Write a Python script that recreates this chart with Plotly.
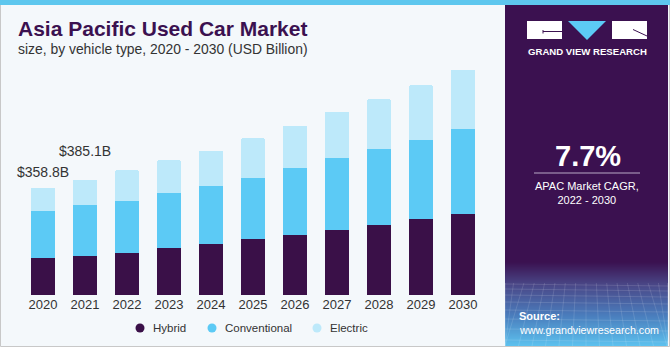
import plotly.graph_objects as go

# ---------------- data ----------------
years = ["2020", "2021", "2022", "2023", "2024", "2025", "2026", "2027", "2028", "2029", "2030"]
hybrid = [122.0, 130.5, 141.3, 156.0, 170.3, 186.0, 200.4, 216.1, 234.8, 252.8, 271.5]
conventional = [158.5, 169.5, 173.7, 185.7, 193.7, 205.7, 222.8, 242.5, 252.8, 264.9, 281.9]
electric = [78.3, 85.1, 101.5, 108.2, 117.9, 131.6, 142.3, 153.6, 166.0, 182.7, 199.1]
series_names = ["Hybrid", "Conventional", "Electric"]
labeled_years = ["2020", "2021"]

title_text = "Asia Pacific Used Car Market"
subtitle_text = "size, by vehicle type, 2020 - 2030 (USD Billion)"
cagr_text = "7.7%"
cagr_label = "APAC Market CAGR,<br>2022 - 2030"
brand_text = "GRAND VIEW RESEARCH"
source_title = "Source:"
source_url = "www.grandviewresearch.com"

# ---------------- style ----------------
C_HYB = "#3a1048"
C_CONV = "#5ccaf5"
C_ELEC = "#bde9fa"
C_PANEL = "#3b1150"
C_TITLE = "#3b1150"
C_TEXT = "#333333"
C_BG = "#f4f8fb"
FONT = "Liberation Sans, Arial, sans-serif"

W, H = 670, 350
L, R, T, B = 22, 186, 55, 55
PW = W - L - R
PH = H - T - B
YMAX = 801.6


def px(x):
    return (x - L) / PW


def py(y):
    return (H - B - y) / PH


fig = go.Figure()
colors = [C_HYB, C_CONV, C_ELEC]
for name, vals, col in zip(series_names, [hybrid, conventional, electric], colors):
    fig.add_trace(go.Bar(
        x=years, y=vals, name=name, marker=dict(color=col, line=dict(width=0)),
        showlegend=False, hoverinfo="x+y+name",
    ))

shapes = []
# chart background & borders
shapes.append(dict(type="rect", xref="paper", yref="paper", x0=px(0.5), x1=px(669.5), y0=py(346.5), y1=py(0),
                   fillcolor=C_BG, line=dict(color="#c8c8c8", width=1), layer="below"))
shapes.append(dict(type="rect", xref="paper", yref="paper", x0=px(0), x1=px(670), y0=py(5), y1=py(0),
                   fillcolor="#5ec7ee", line=dict(width=0), layer="below"))
# right panel
shapes.append(dict(type="rect", xref="paper", yref="paper", x0=px(505), x1=px(668), y0=py(346), y1=py(5),
                   fillcolor=C_PANEL, line=dict(width=0), layer="below"))


def hex2rgb(h):
    h = h.lstrip("#")
    return tuple(int(h[i:i + 2], 16) for i in (0, 2, 4))


stops = [(262, "#3b1150"), (285, "#4a4888"), (315, "#4a7cbc"), (346, "#5dc2ef")]
for i in range(len(stops) - 1):
    y0s, c0 = stops[i]
    y1s, c1 = stops[i + 1]
    r0, g0, b0 = hex2rgb(c0)
    r1, g1, b1 = hex2rgb(c1)
    n = int(y1s - y0s)
    for k in range(n):
        t = (k + 0.5) / n
        col = "rgb(%d,%d,%d)" % (r0 + (r1 - r0) * t, g0 + (g1 - g0) * t, b0 + (b1 - b0) * t)
        shapes.append(dict(type="rect", xref="paper", yref="paper", x0=px(505), x1=px(668),
                           y0=py(y0s + k + 1), y1=py(y0s + k), fillcolor=col, line=dict(width=0), layer="below"))
# faint grid pattern in panel bottom
for yy in [284, 289, 295, 302, 310, 319, 329, 340]:
    shapes.append(dict(type="line", xref="paper", yref="paper", x0=px(505), x1=px(668), y0=py(yy), y1=py(yy + 2),
                       line=dict(color="rgba(255,255,255,0.13)", width=1), layer="below"))
for xx in range(505, 670, 9):
    xa = min(max(xx + (xx - 586) * 0.15, 505), 668)
    xb = min(max(xx + (xx - 586) * 0.5, 505), 668)
    shapes.append(dict(type="line", xref="paper", yref="paper", x0=px(xa), x1=px(xb),
                       y0=py(283), y1=py(346), line=dict(color="rgba(255,255,255,0.12)", width=1), layer="below"))

# logo
shapes.append(dict(type="rect", xref="paper", yref="paper", x0=px(527), x1=px(562), y0=py(39), y1=py(21),
                   fillcolor="white", line=dict(width=0)))
shapes.append(dict(type="rect", xref="paper", yref="paper", x0=px(612), x1=px(647), y0=py(39), y1=py(21),
                   fillcolor="white", line=dict(width=0)))
shapes.append(dict(type="line", xref="paper", yref="paper", x0=px(543), x1=px(562), y0=py(31.5), y1=py(31.5),
                   line=dict(color=C_PANEL, width=1)))
shapes.append(dict(type="line", xref="paper", yref="paper", x0=px(543), x1=px(543), y0=py(30), y1=py(33.5),
                   line=dict(color=C_PANEL, width=1)))
shapes.append(dict(type="line", xref="paper", yref="paper", x0=px(633), x1=px(647), y0=py(29.5), y1=py(36),
                   line=dict(color=C_PANEL, width=1)))
tri = "M {} {} L {} {} L {} {} Z".format(px(568), py(21), px(606), py(21), px(587), py(40))
shapes.append(dict(type="path", xref="paper", yref="paper", path=tri, fillcolor="#5ccaf5", line=dict(width=0)))
# CAGR divider line
shapes.append(dict(type="line", xref="paper", yref="paper", x0=px(534), x1=px(640), y0=py(173), y1=py(173),
                   line=dict(color="#b9a9c6", width=1.2)))

annotations = []
annotations.append(dict(text="<b>" + title_text + "</b>", xref="paper", yref="paper", x=px(16), y=py(29),
                        xanchor="left", yanchor="middle", showarrow=False,
                        font=dict(family=FONT, size=21, color=C_TITLE)))
annotations.append(dict(text=subtitle_text, xref="paper", yref="paper", x=px(16), y=py(49),
                        xanchor="left", yanchor="middle", showarrow=False,
                        font=dict(family=FONT, size=13.9, color=C_TEXT)))
# totals
yshifts = {"2020": 6, "2021": 19}
for yr in labeled_years:
    i = years.index(yr)
    tot = hybrid[i] + conventional[i] + electric[i]
    annotations.append(dict(text="${:.1f}B".format(tot), x=i, y=tot, xref="x", yref="y",
                            xanchor="center", yanchor="bottom", yshift=yshifts[yr], showarrow=False,
                            font=dict(family=FONT, size=14, color=C_TEXT)))

# legend (round markers + labels)
legend_marker_x = [140, 212, 317]
for name, col, mx in zip(series_names, colors, legend_marker_x):
    shapes.append(dict(type="circle", xref="paper", yref="paper", x0=px(mx - 4.5), x1=px(mx + 4.5),
                       y0=py(328 + 4.5), y1=py(328 - 4.5), fillcolor=col, line=dict(width=0)))
    annotations.append(dict(text=name, xref="paper", yref="paper", x=px(mx + 11), y=py(328),
                            xanchor="left", yanchor="middle", showarrow=False,
                            font=dict(family=FONT, size=11.5, color=C_TEXT)))

# right panel texts
annotations.append(dict(text="<b>" + brand_text + "</b>", xref="paper", yref="paper", x=px(587.5), y=py(51),
                        xanchor="center", yanchor="middle", showarrow=False,
                        font=dict(family=FONT, size=9.6, color="white")))
annotations.append(dict(text="<b>" + cagr_text + "</b>", xref="paper", yref="paper", x=px(588), y=py(156),
                        xanchor="center", yanchor="middle", showarrow=False,
                        font=dict(family=FONT, size=29, color="white")))
annotations.append(dict(text=cagr_label, xref="paper", yref="paper", x=px(587), y=py(193),
                        xanchor="center", yanchor="middle", showarrow=False,
                        font=dict(family=FONT, size=11, color="white")))
annotations.append(dict(text="<b>" + source_title + "</b>", xref="paper", yref="paper", x=px(517), y=py(316),
                        xanchor="left", yanchor="middle", showarrow=False,
                        font=dict(family=FONT, size=11, color="white")))
annotations.append(dict(text=source_url, xref="paper", yref="paper", x=px(517), y=py(330),
                        xanchor="left", yanchor="middle", showarrow=False,
                        font=dict(family=FONT, size=10.7, color="white")))

fig.update_layout(
    width=W, height=H, autosize=False,
    margin=dict(l=L, r=R, t=T, b=B, pad=0),
    paper_bgcolor="white", plot_bgcolor="rgba(0,0,0,0)",
    barmode="stack", bargap=0.43, barcornerradius=2,
    font=dict(family=FONT, color=C_TEXT),
    xaxis=dict(type="category", categoryorder="array", categoryarray=years, range=[-0.5, len(years) - 0.5],
               showgrid=False, zeroline=False, showline=False, ticks="", ticklabelstandoff=0,
               tickfont=dict(family=FONT, size=13, color=C_TEXT), fixedrange=True),
    yaxis=dict(range=[0, YMAX], visible=False, showgrid=False, zeroline=False, fixedrange=True),
    shapes=shapes, annotations=annotations,
    showlegend=False,
)

fig.write_html("out.html")
